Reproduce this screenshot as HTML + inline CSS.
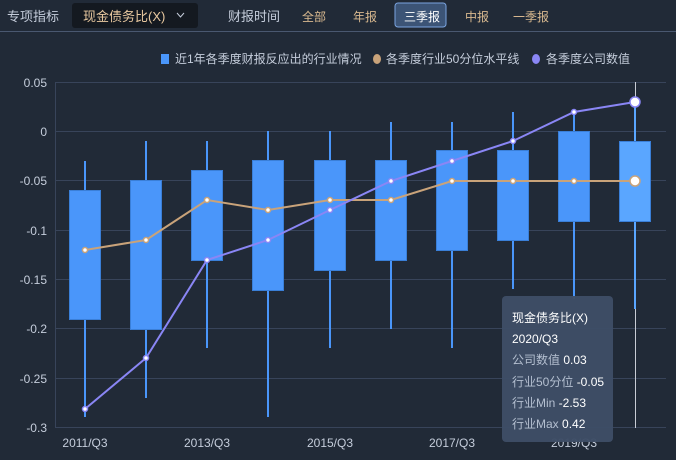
<!DOCTYPE html><html><head><meta charset="utf-8"><style>
body{margin:0;width:676px;height:460px;background:#212a37;overflow:hidden;font-family:"Liberation Sans","Noto Sans CJK SC",sans-serif;}
</style></head><body>
<svg width="676" height="460" xmlns="http://www.w3.org/2000/svg" style="position:absolute;left:0;top:0;font-family:'Liberation Sans','Noto Sans CJK SC',sans-serif">
<rect width="676" height="460" fill="#212a37"/>
<text x="7" y="21" font-size="13" fill="#c5cddb">专项指标</text>
<rect x="72" y="3" width="126" height="25" rx="3" fill="#141920"/>
<text x="83" y="21" font-size="13" fill="#e9c9a0">现金债务比(X)</text>
<polyline points="177,13 180.5,17 184,13" fill="none" stroke="#c5cddb" stroke-width="1"/>
<text x="228" y="21" font-size="13" fill="#c5cddb">财报时间</text>
<text x="302" y="21" font-size="12" fill="#d9b98f">全部</text>
<text x="353" y="21" font-size="12" fill="#d9b98f">年报</text>
<rect x="395" y="3" width="51" height="24" rx="3" fill="#3c5476" stroke="#7aa4e0" stroke-width="1"/>
<text x="404" y="21" font-size="12" fill="#ffffff">三季报</text>
<text x="465" y="21" font-size="12" fill="#d9b98f">中报</text>
<text x="513" y="21" font-size="12" fill="#d9b98f">一季报</text>
<line x1="0" y1="31.5" x2="676" y2="31.5" stroke="#4a5870" stroke-width="1"/>
<rect x="161" y="54" width="8" height="10" fill="#4a96fa"/>
<text x="175" y="63" font-size="12" fill="#c5cddb">近1年各季度财报反应出的行业情况</text>
<ellipse cx="377" cy="59" rx="4" ry="5" fill="#c9a37a"/>
<text x="386" y="63" font-size="12" fill="#c5cddb">各季度行业50分位水平线</text>
<ellipse cx="536" cy="59" rx="4" ry="5" fill="#8a86f5"/>
<text x="546" y="63" font-size="12" fill="#c5cddb">各季度公司数值</text>
<g stroke="#38445a" stroke-width="1">
<line x1="55" y1="82.5" x2="666" y2="82.5"/><line x1="55" y1="131.5" x2="666" y2="131.5"/>
<line x1="55" y1="180.5" x2="666" y2="180.5"/><line x1="55" y1="230.5" x2="666" y2="230.5"/>
<line x1="55" y1="279.5" x2="666" y2="279.5"/><line x1="55" y1="328.5" x2="666" y2="328.5"/>
<line x1="55" y1="378.5" x2="666" y2="378.5"/><line x1="55" y1="427.5" x2="666" y2="427.5"/>
<line x1="55.5" y1="82" x2="55.5" y2="428"/>
</g>
<g font-size="12" fill="#c5cddb" text-anchor="end">
<text x="47" y="87">0.05</text><text x="47" y="136">0</text><text x="47" y="185">-0.05</text>
<text x="47" y="235">-0.1</text><text x="47" y="284">-0.15</text><text x="47" y="333">-0.2</text>
<text x="47" y="383">-0.25</text><text x="47" y="432">-0.3</text>
</g>
<g font-size="12" fill="#c5cddb" text-anchor="middle">
<text x="85" y="447">2011/Q3</text><text x="207" y="447">2013/Q3</text><text x="330" y="447">2015/Q3</text>
<text x="452" y="447">2017/Q3</text><text x="574" y="447">2019/Q3</text>
</g>
<line x1="635.5" y1="82" x2="635.5" y2="428" stroke="#c8ccd4" stroke-width="1"/>
<g stroke="#4a96fa" stroke-width="2">
<line x1="85" y1="161" x2="85" y2="417"/>
<line x1="146" y1="141" x2="146" y2="398"/>
<line x1="207" y1="141" x2="207" y2="348"/>
<line x1="268" y1="131" x2="268" y2="417"/>
<line x1="330" y1="131" x2="330" y2="348"/>
<line x1="391" y1="122" x2="391" y2="329"/>
<line x1="452" y1="122" x2="452" y2="348"/>
<line x1="513" y1="112" x2="513" y2="289"/>
<line x1="574" y1="112" x2="574" y2="299"/>
<line x1="635" y1="102" x2="635" y2="309" stroke="#5aa6ff"/>
</g>
<g fill="#4a96fa" stroke="#3a7fd8" stroke-width="1">
<rect x="69.5" y="190.5" width="31" height="129"/>
<rect x="130.5" y="180.5" width="31" height="149"/>
<rect x="191.5" y="170.5" width="31" height="90"/>
<rect x="252.5" y="160.5" width="31" height="130"/>
<rect x="314.5" y="160.5" width="31" height="110"/>
<rect x="375.5" y="160.5" width="31" height="100"/>
<rect x="436.5" y="150.5" width="31" height="100"/>
<rect x="497.5" y="150.5" width="31" height="90"/>
<rect x="558.5" y="131.5" width="31" height="90"/>
<rect x="619.5" y="141.5" width="31" height="80" fill="#5aa6ff"/>
</g>
<polyline fill="none" stroke="#c9a37a" stroke-width="2" points="85,250 146,240 207,200 268,210 330,200 391,200 452,181 513,181 574,181 635,181"/>
<polyline fill="none" stroke="#8a86f5" stroke-width="2" points="85,409 146,358 207,260 268,240 330,210 391,181 452,161 513,141 574,112 635,102"/>
<g fill="#fff" stroke="#c9a37a" stroke-width="1.5">
<circle cx="85" cy="250" r="2.5"/><circle cx="146" cy="240" r="2.5"/><circle cx="207" cy="200" r="2.5"/><circle cx="268" cy="210" r="2.5"/><circle cx="330" cy="200" r="2.5"/><circle cx="391" cy="200" r="2.5"/><circle cx="452" cy="181" r="2.5"/><circle cx="513" cy="181" r="2.5"/><circle cx="574" cy="181" r="2.5"/><circle cx="635" cy="181" r="5"/>
</g>
<g fill="#fff" stroke="#8a86f5" stroke-width="1.5">
<circle cx="85" cy="409" r="2.5"/><circle cx="146" cy="358" r="2.5"/><circle cx="207" cy="260" r="2.5"/><circle cx="268" cy="240" r="2.5"/><circle cx="330" cy="210" r="2.5"/><circle cx="391" cy="181" r="2.5"/><circle cx="452" cy="161" r="2.5"/><circle cx="513" cy="141" r="2.5"/><circle cx="574" cy="112" r="2.5"/><circle cx="635" cy="102" r="5"/>
</g>
<rect x="502" y="296" width="111" height="146" rx="4" fill="#3e4d66" opacity="0.97"/>
<g font-size="12">
<text x="512" y="322" fill="#ffffff">现金债务比(X)</text>
<text x="512" y="343" fill="#ffffff">2020/Q3</text>
<text x="512" y="364" fill="#b4bfd0">公司数值 <tspan fill="#fff">0.03</tspan></text>
<text x="512" y="386" fill="#b4bfd0">行业50分位 <tspan fill="#fff">-0.05</tspan></text>
<text x="512" y="407" fill="#b4bfd0">行业Min <tspan fill="#fff">-2.53</tspan></text>
<text x="512" y="428" fill="#b4bfd0">行业Max <tspan fill="#fff">0.42</tspan></text>
</g>
</svg>
</body></html>
